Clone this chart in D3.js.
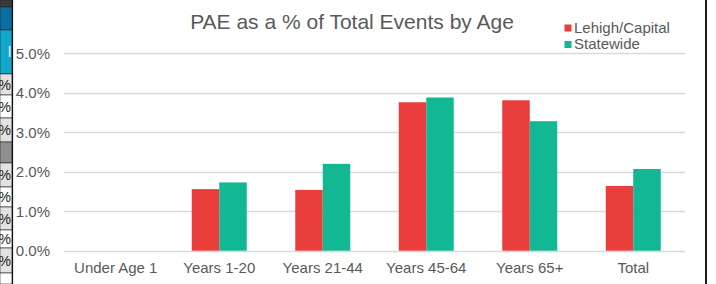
<!DOCTYPE html>
<html>
<head>
<meta charset="utf-8">
<script src="https://cdn.jsdelivr.net/npm/d3@7"></script>
<style>
  body { margin: 0; background: #fff; }
  svg { display: block; font-family: "Liberation Sans", Arial, sans-serif; }
</style>
</head>
<body>
<div id="chart"></div>
<script>
var categories = ["Under Age 1", "Years 1-20", "Years 21-44", "Years 45-64", "Years 65+", "Total"];
var seriesNames = ["Lehigh/Capital", "Statewide"];
var lehigh = [0, 1.56, 1.54, 3.76, 3.81, 1.64];
var statewide = [0, 1.73, 2.2, 3.88, 3.28, 2.07];
var yTicks = [0, 1, 2, 3, 4, 5];
var colors = ["#EA3E3C", "#12B793"];

// spreadsheet cells peeking in at the left edge
var edgeCells = [
  {y0: 0, y1: 7, fill: "#3a3a3a", t: ""},
  {y0: 7, y1: 30, fill: "#0b6ea3", t: ""},
  {y0: 30, y1: 74, fill: "#13a7cc", t: "l"},
  {y0: 74, y1: 95, fill: "#e2e2e2", t: "%"},
  {y0: 95, y1: 118, fill: "#ffffff", t: "%"},
  {y0: 118, y1: 142, fill: "#e2e2e2", t: "%"},
  {y0: 142, y1: 163, fill: "#8f8f8f", t: ""},
  {y0: 163, y1: 187, fill: "#e2e2e2", t: "%"},
  {y0: 187, y1: 207, fill: "#ffffff", t: "%"},
  {y0: 207, y1: 230, fill: "#e2e2e2", t: "%"},
  {y0: 230, y1: 248, fill: "#ffffff", t: "%"},
  {y0: 248, y1: 273, fill: "#e2e2e2", t: "%"},
  {y0: 273, y1: 284, fill: "#ffffff", t: ""}
];

var W = 716, H = 284;
var svg = d3.select("#chart").append("svg").attr("width", W).attr("height", H);

var plotL = 64, plotR = 685, plotT = 53.3, plotB = 250.7;

var x = d3.scaleBand().domain(categories).range([plotL, plotR]);
var xs = d3.scaleBand().domain(seriesNames).range([0, 55]);
var y = d3.scaleLinear().domain([0, 5]).range([plotB, plotT]);

// edge cells
var cells = svg.append("g");
cells.selectAll("rect").data(edgeCells).enter().append("rect")
  .attr("x", 0).attr("width", 12)
  .attr("y", function(d) { return d.y0; })
  .attr("height", function(d) { return d.y1 - d.y0; })
  .attr("fill", function(d) { return d.fill; })
  .attr("stroke", "#222").attr("stroke-width", 0.6);
cells.selectAll("text").data(edgeCells).enter().append("text")
  .attr("x", 11).attr("text-anchor", "end")
  .attr("y", function(d) { return (d.y0 + d.y1) / 2 + 5; })
  .attr("font-size", "14px")
  .attr("fill", function(d) { return d.fill == "#13a7cc" ? "#fff" : "#222"; })
  .text(function(d) { return d.t; });
svg.append("line").attr("x1", 12.5).attr("x2", 12.5).attr("y1", 0).attr("y2", H)
  .attr("stroke", "#111").attr("stroke-width", 1.2);

// right border
svg.append("line").attr("x1", 706).attr("x2", 706).attr("y1", 0).attr("y2", H)
  .attr("stroke", "#1a1a1a").attr("stroke-width", 2);

// gridlines
svg.append("g").selectAll("line").data(yTicks).enter().append("line")
  .attr("x1", plotL).attr("x2", plotR)
  .attr("y1", function(d) { return Math.round(y(d)) + 0.5; })
  .attr("y2", function(d) { return Math.round(y(d)) + 0.5; })
  .attr("stroke", "#d9d9d9").attr("stroke-width", 1.3);

// y axis labels
var yAxis = d3.axisLeft(y).tickValues(yTicks).tickSize(0).tickPadding(0)
  .tickFormat(function(d) { return d.toFixed(1) + "%"; });
var gy = svg.append("g").attr("transform", "translate(50,0)").call(yAxis);
gy.select(".domain").remove();
gy.selectAll("text").attr("font-size", "15px").attr("fill", "#595959")
  .attr("font-family", "Liberation Sans, Arial, sans-serif");

// x axis labels
var xAxis = d3.axisBottom(x).tickSize(0).tickPadding(0);
var gx = svg.append("g").attr("transform", "translate(0,262)").call(xAxis);
gx.select(".domain").remove();
gx.selectAll("text").attr("font-size", "15px").attr("fill", "#595959")
  .attr("font-family", "Liberation Sans, Arial, sans-serif");

// bars
var rows = categories.map(function(c, i) { return {cat: c, vals: [lehigh[i], statewide[i]]}; });
var groups = svg.append("g").selectAll("g").data(rows).enter().append("g")
  .attr("transform", function(d) { return "translate(" + (x(d.cat) + (x.bandwidth() - 55) / 2) + ",0)"; });
groups.selectAll("rect").data(function(d) {
    return d.vals.map(function(v, j) { return {name: seriesNames[j], v: v, j: j}; });
  }).enter().append("rect")
  .attr("x", function(d) { return xs(d.name); })
  .attr("width", xs.bandwidth())
  .attr("y", function(d) { return y(d.v); })
  .attr("height", function(d) { return y(0) - y(d.v); })
  .attr("fill", function(d) { return colors[d.j]; });

// title
svg.append("text").attr("x", 352).attr("y", 29).attr("text-anchor", "middle")
  .attr("font-size", "21px").attr("fill", "#595959")
  .text("PAE as a % of Total Events by Age");

// legend
var legend = svg.append("g").selectAll("g").data(seriesNames).enter().append("g")
  .attr("transform", function(d, i) { return "translate(564.5," + (24.5 + i * 16.5) + ")"; });
legend.append("rect").attr("width", 7).attr("height", 7)
  .attr("fill", function(d, i) { return colors[i]; });
legend.append("text").attr("x", 9.5).attr("y", 8).attr("font-size", "15px")
  .attr("fill", "#595959").text(function(d) { return d; });
</script>
</body>
</html>
